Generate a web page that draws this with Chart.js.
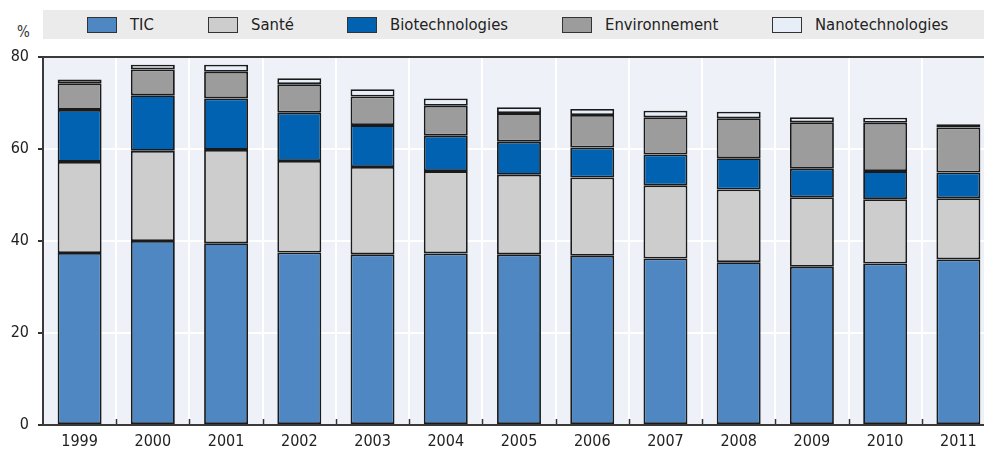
<!DOCTYPE html>
<html><head><meta charset="utf-8">
<script src="https://cdn.jsdelivr.net/npm/chart.js@4.4.0/dist/chart.umd.min.js"></script>
<style>
html,body{margin:0;padding:0;background:#fff;overflow:hidden;width:984px;height:454px;}
#wrap{position:relative;width:1000px;height:454px;}
#legend{position:absolute;left:43px;top:10px;width:960px;height:29px;background:#ebebeb;}
.li{position:absolute;top:0;height:29px;display:flex;align-items:center;font-family:"Liberation Sans Narrow","Arial Narrow","DejaVu Sans Condensed",sans-serif;font-size:16.5px;color:#222;}
.sw{width:28px;height:14px;border:1.6px solid #333;margin-right:13px;box-sizing:content-box;}
#pct{position:absolute;left:17px;top:23px;font-family:"Liberation Sans Narrow","Arial Narrow","DejaVu Sans Condensed",sans-serif;font-size:15px;color:#333;}
canvas{position:absolute;left:0;top:0;}
</style></head>
<body><div id="wrap"><div id="legend"></div><div id="pct">%</div><canvas id="c" width="1000" height="454"></canvas></div>
<script>
const categories = ["1999","2000","2001","2002","2003","2004","2005","2006","2007","2008","2009","2010","2011"];
const seriesNames = ["TIC","Santé","Biotechnologies","Environnement","Nanotechnologies"];
const tic   = [37.4, 40.0, 39.5, 37.5, 37.1, 37.3, 37.1, 36.8, 36.2, 35.4, 34.4, 35.1, 36.0];
const sante = [19.8, 19.6, 20.3, 19.9, 19.0, 17.9, 17.3, 17.0, 15.9, 15.8, 15.1, 14.0, 13.3];
const biotech = [11.3, 12.1, 11.2, 10.5, 9.1, 7.7, 7.2, 6.5, 6.7, 6.8, 6.2, 6.1, 5.6];
const environnement = [5.8, 5.6, 5.8, 6.2, 6.2, 6.5, 6.2, 7.1, 8.1, 8.7, 10.1, 10.5, 9.8];
const nano = [0.8, 1.0, 1.5, 1.3, 1.6, 1.6, 1.3, 1.3, 1.4, 1.4, 1.1, 1.1, 0.7];
const yTicks = [0, 20, 40, 60, 80];

const colors = ["#4f87c2", "#cdcdcd", "#0062b0", "#9c9c9c", "#e8eef7"];
const legendX = [44, 165, 304, 519, 729];
const values = [tic, sante, biotech, environnement, nano];

const leg = document.getElementById('legend');
seriesNames.forEach((n,i)=>{
  const d=document.createElement('div'); d.className='li'; d.style.left=legendX[i]+'px';
  const s=document.createElement('div'); s.className='sw'; s.style.background=colors[i];
  const t=document.createElement('span'); t.textContent=n;
  d.appendChild(s); d.appendChild(t); leg.appendChild(d);
});

const FONT = "'Liberation Sans Narrow','Arial Narrow','DejaVu Sans Condensed',sans-serif";

const bgPlugin = {
  id:'bg',
  beforeDraw(chart){
    const {ctx, chartArea:a} = chart;
    ctx.save(); ctx.fillStyle='#eef2f8'; ctx.fillRect(a.left,a.top,a.right-a.left,a.bottom-a.top); ctx.restore();
  },
  afterDraw(chart){
    const {ctx, chartArea:a, scales} = chart;
    ctx.save();
    ctx.strokeStyle='#333'; ctx.lineWidth=1.5;
    const n = categories.length;
    for(let i=1;i<n;i++){
      const x = (scales.x.getPixelForValue(i-1)+scales.x.getPixelForValue(i))/2;
      ctx.beginPath(); ctx.moveTo(Math.round(x)+0.5, a.bottom); ctx.lineTo(Math.round(x)+0.5, a.bottom-6); ctx.stroke();
    }
    ctx.strokeStyle='#3a3a3a'; ctx.lineWidth=2;
    ctx.beginPath(); ctx.moveTo(a.left, a.top); ctx.lineTo(a.right, a.top); ctx.stroke();
    ctx.beginPath(); ctx.moveTo(a.left, a.top); ctx.lineTo(a.left, a.bottom); ctx.lineTo(a.right, a.bottom); ctx.stroke();
    ctx.restore();
  }
};

new Chart(document.getElementById('c'), {
  type:'bar',
  data:{
    labels: categories,
    datasets: seriesNames.map((n,i)=>({
      label:n, data:values[i], backgroundColor:colors[i], borderColor:'#1a1a1a', borderWidth:1.8,
      borderSkipped:false, barPercentage:0.6, categoryPercentage:1
    }))
  },
  options:{
    responsive:false, animation:false,
    layout:{padding:{top:57, right:5, left:0, bottom:0}},
    plugins:{legend:{display:false}, tooltip:{enabled:false}},
    scales:{
      x:{stacked:true, offset:true,
        grid:{offset:true, color:'#ffffff', lineWidth:2, drawTicks:false},
        border:{display:false},
        ticks:{color:'#222', padding:7, font:{family:FONT, size:16}},
        afterFit(s){ s.height = 29; }
      },
      y:{stacked:true, min:0, max:80,
        afterBuildTicks(s){ s.ticks = yTicks.map(v=>({value:v})); },
        grid:{color:'#ffffff', lineWidth:2, tickColor:'#333', tickLength:5},
        border:{display:false},
        ticks:{color:'#222', padding:9, font:{family:FONT, size:16}},
        afterFit(s){ s.width = 43; }
      }
    }
  },
  plugins:[bgPlugin]
});
</script></body></html>
